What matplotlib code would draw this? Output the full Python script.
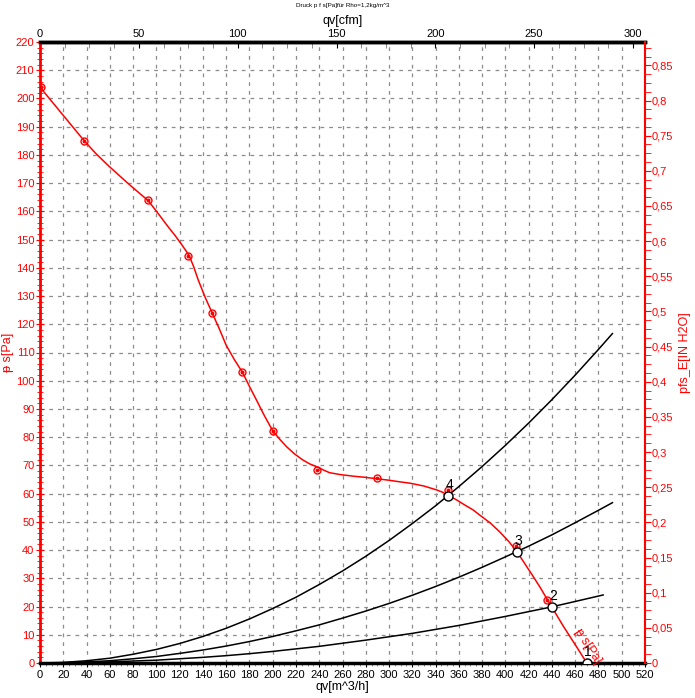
import matplotlib
matplotlib.use("Agg")
import matplotlib.pyplot as plt
from matplotlib.ticker import MultipleLocator, FixedLocator, FuncFormatter

plt.rcParams['font.family'] = ['Liberation Sans', 'DejaVu Sans']

PA_PER_INH2O = 249.089
M3H_PER_CFM = 1.69901

# fan curve, ps [Pa] over qv [m^3/h]
fan_qv = [0, 10, 20, 30, 38, 48, 59, 70, 79, 93, 102, 110, 116, 122, 128, 132, 136, 142, 148,
          154, 160, 167, 174, 180, 186, 193, 200, 206, 212, 219, 226, 232, 238, 244, 249, 259,
          269, 279, 289, 299, 309, 318, 330, 341, 346, 351, 358, 365, 372, 378, 387, 395, 403,
          410, 417, 424, 430, 436, 443, 450, 460, 470]
fan_ps = [204, 199, 194, 189, 185, 180.5, 176.1, 172, 168.7, 163.8, 159, 154.6, 151.5, 148.1,
          144.5, 140.5, 135.7, 129.5, 124, 118.5, 112.6, 107.5, 103, 98, 93.2, 87.5, 82.3, 79.3,
          76.6, 74, 71.9, 70.5, 69.5, 68.3, 67.4, 66.7, 66.2, 65.8, 65.3, 64.8, 64.2, 63.7, 62.7,
          61.3, 60.5, 59.3, 57.8, 56, 54.3, 52.4, 49.6, 46.5, 43, 39.4, 35, 30.6, 26.7, 22.5,
          17.7, 12.9, 6.5, 0]

# measured points (red circles)
meas_qv = [1, 38, 92.5, 127.5, 148, 173.6, 200.5, 237.8, 289.4, 350.4, 408.8, 435.5]
meas_ps = [204, 185, 164, 144.2, 124, 103, 82.3, 68.4, 65.4, 61.3, 41.4, 22.3]

# system curves 2..4
sys_qv = [0, 20, 40, 60, 80, 100, 120, 140, 160, 180, 200, 220, 240, 260, 280, 300, 320, 340,
          360, 380, 400, 420, 440, 460, 480, 492]
sys4_ps = [0, 0.2, 0.8, 1.7, 3.1, 4.8, 6.9, 9.4, 12.3, 15.6, 19.3, 23.3, 27.8, 32.6, 37.8, 43.4,
           49.4, 55.7, 62.5, 69.6, 77.1, 85.0, 93.3, 102.0, 111.1, 116.7]
sys3_ps = [0, 0.1, 0.4, 0.8, 1.5, 2.3, 3.4, 4.6, 6.0, 7.6, 9.4, 11.4, 13.5, 15.9, 18.4, 21.1,
           24.0, 27.1, 30.4, 33.9, 37.6, 41.4, 45.4, 49.7, 54.1, 56.8]
sys2_qv = [0, 20, 40, 60, 80, 100, 120, 140, 160, 180, 200, 220, 240, 260, 280, 300, 320, 340,
           360, 380, 400, 420, 440, 460, 484]
sys2_ps = [0, 0.04, 0.16, 0.4, 0.7, 1.0, 1.5, 2.0, 2.6, 3.3, 4.1, 5.0, 5.9, 7.0, 8.1, 9.3, 10.5,
           11.9, 13.3, 14.9, 16.5, 18.2, 19.9, 21.8, 24.1]

# operating points
op_qv = [470, 439.8, 409.7, 350.7]
op_ps = [0, 19.9, 39.4, 59.3]
op_labels = ['1', '2', '3', '4']

cfm_ticks = [0, 50, 100, 150, 200, 250, 300]

fig = plt.figure(figsize=(6.95, 6.98), dpi=100)
ax = fig.add_axes([40/695, 35/698, 605/695, 621/698])

ax.set_xlim(0, 520)
ax.set_ylim(0, 220)

ax.xaxis.set_major_locator(MultipleLocator(20))
ax.xaxis.set_minor_locator(MultipleLocator(5))
ax.yaxis.set_major_locator(MultipleLocator(10))
ax.yaxis.set_minor_locator(MultipleLocator(2))
ax.grid(which='major', color='#8c8c8c', linestyle=(0, (3, 4)), linewidth=0.9)
ax.set_axisbelow(True)

ax.tick_params(axis='x', which='major', direction='out', length=3, labelsize=8, pad=2)
ax.tick_params(axis='x', which='minor', direction='out', length=2, color='#777777')
ax.tick_params(axis='y', which='both', direction='inout', color='red', labelcolor='red', labelsize=8, pad=1)
ax.tick_params(axis='y', which='major', length=6)
ax.tick_params(axis='y', which='minor', length=4)

ax.spines['left'].set_color('red')
ax.spines['left'].set_linewidth(2)
ax.spines['bottom'].set_linewidth(2.5)
ax.spines['top'].set_linewidth(2.5)
ax.spines['right'].set_visible(False)

ax.set_xlabel('qv[m^3/h]', fontsize=9, labelpad=1)
ax.set_ylabel('ᵽ s[Pa]', fontsize=9, color='red', labelpad=1)

# system curves
ax.plot(sys_qv, sys4_ps, color='black', linewidth=1.1)
ax.plot(sys_qv, sys3_ps, color='black', linewidth=1.1)
ax.plot(sys2_qv, sys2_ps, color='black', linewidth=1.1)

# fan curve
ax.plot(fan_qv, fan_ps, color='red', linewidth=1.1)
ax.plot(meas_qv, meas_ps, linestyle='none', marker='o', markersize=5,
        markerfacecolor='none', markeredgecolor='red', markeredgewidth=1)
ax.plot(meas_qv, meas_ps, linestyle='none', marker='o', markersize=1.8, color='red')

ax.plot(op_qv, op_ps, linestyle='none', marker='o', markersize=6.5,
        markerfacecolor='white', markeredgecolor='black', markeredgewidth=1, zorder=5)
for q, p, t in zip(op_qv, op_ps, op_labels):
    ax.text(q + 1, p + 1.3, t, fontsize=10, ha='center', va='bottom', zorder=6)

ax.text(471, 6, 'ᵽ s[Pa]', color='red', fontsize=9, rotation=-57,
        ha='center', va='center', rotation_mode='anchor')

# right axis in inch water
ax2 = ax.twinx()
ax2.set_ylim(0, 220 / PA_PER_INH2O)
ax2.yaxis.set_major_locator(MultipleLocator(0.05))
ax2.yaxis.set_minor_locator(MultipleLocator(0.0125))
ax2.yaxis.set_major_formatter(FuncFormatter(lambda v, pos: f"{v:.2f}".rstrip('0').rstrip('.').replace('.', ',')))
ax2.tick_params(axis='y', which='both', direction='out', color='red', labelcolor='red', labelsize=8, pad=1)
ax2.tick_params(axis='y', which='major', length=4)
ax2.tick_params(axis='y', which='minor', length=4)
for s in ['left', 'top', 'bottom']:
    ax2.spines[s].set_visible(False)
ax2.spines['right'].set_color('red')
ax2.spines['right'].set_linewidth(1.5)
ax2.set_ylabel('pfs_E[IN H2O]', fontsize=9, color='red', labelpad=4)

# top axis in cfm
secax = ax.secondary_xaxis('top', functions=(lambda x: x / M3H_PER_CFM, lambda x: x * M3H_PER_CFM))
secax.xaxis.set_major_locator(FixedLocator(cfm_ticks))
secax.xaxis.set_minor_locator(FixedLocator([i * 12.5 for i in range(25)]))
secax.tick_params(axis='x', which='both', direction='in', labelsize=8, pad=2)
secax.tick_params(axis='x', which='major', length=4)
secax.tick_params(axis='x', which='minor', length=4, color='#777777')
secax.spines['top'].set_linewidth(2.5)
secax.set_xlabel('qv[cfm]', fontsize=9, labelpad=4)

fig.text(0.493, 0.995, 'Druck p f s[Pa]für Rho=1,2kg/m^3', fontsize=4.5, ha='center', va='top')

fig.savefig('out.png', dpi=100)
